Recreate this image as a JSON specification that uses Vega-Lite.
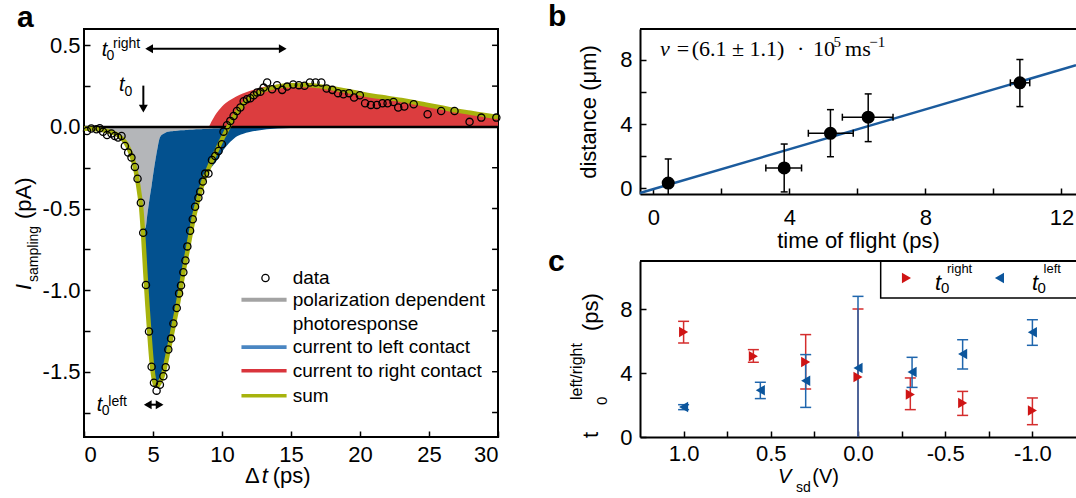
{
"$schema": "https://vega.github.io/schema/vega-lite/v6.json",
"background": "white",
"padding": {"left": 12, "top": 2, "right": 0, "bottom": 0},
"autosize": {"type": "pad"},
"config": {
 "font": "Liberation Sans",
 "view": {"stroke": null},
 "axis": {"labelFont": "Liberation Sans", "labelFontSize": 22, "labelColor": "black", "tickColor": "black", "tickWidth": 1.5, "domainColor": "black", "domainWidth": 2, "grid": false, "titleFont": "Liberation Sans", "titleFontSize": 22, "titleFontWeight": "normal", "titleColor": "black"},
 "text": {"font": "Liberation Sans", "color": "black"}
},
"datasets": {
 "a_curves": [
  {"t":0,"s":-0.01,"g":-0.01,"b":-0.01,"r":0},
  {"t":0.5,"s":-0.012,"g":-0.012,"b":-0.012,"r":0},
  {"t":1,"s":-0.015,"g":-0.015,"b":-0.015,"r":0},
  {"t":1.5,"s":-0.022,"g":-0.022,"b":-0.022,"r":0},
  {"t":2,"s":-0.033,"g":-0.033,"b":-0.033,"r":0},
  {"t":2.5,"s":-0.052,"g":-0.052,"b":-0.052,"r":0},
  {"t":3,"s":-0.095,"g":-0.095,"b":-0.095,"r":0},
  {"t":3.25,"s":-0.135,"g":-0.135,"b":-0.135,"r":0},
  {"t":3.5,"s":-0.19,"g":-0.19,"b":-0.19,"r":0},
  {"t":3.75,"s":-0.27,"g":-0.27,"b":-0.27,"r":0},
  {"t":4,"s":-0.4,"g":-0.4,"b":-0.4,"r":0},
  {"t":4.15,"s":-0.5,"g":-0.5,"b":-0.5,"r":0},
  {"t":4.3,"s":-0.68,"g":-0.59,"b":-0.68,"r":0},
  {"t":4.45,"s":-0.9,"g":-0.62,"b":-0.9,"r":0},
  {"t":4.6,"s":-1.1,"g":-0.53,"b":-1.1,"r":0},
  {"t":4.75,"s":-1.28,"g":-0.44,"b":-1.28,"r":0},
  {"t":4.9,"s":-1.44,"g":-0.36,"b":-1.44,"r":0},
  {"t":5.05,"s":-1.54,"g":-0.27,"b":-1.54,"r":0},
  {"t":5.2,"s":-1.585,"g":-0.19,"b":-1.585,"r":0},
  {"t":5.35,"s":-1.585,"g":-0.12,"b":-1.585,"r":0},
  {"t":5.5,"s":-1.565,"g":-0.065,"b":-1.565,"r":0},
  {"t":5.7,"s":-1.525,"g":-0.045,"b":-1.525,"r":0},
  {"t":5.9,"s":-1.46,"g":-0.035,"b":-1.46,"r":0},
  {"t":6.1,"s":-1.38,"g":-0.03,"b":-1.38,"r":0},
  {"t":6.3,"s":-1.3,"g":-0.027,"b":-1.3,"r":0},
  {"t":6.5,"s":-1.215,"g":-0.025,"b":-1.215,"r":0},
  {"t":6.75,"s":-1.11,"g":-0.023,"b":-1.11,"r":0},
  {"t":7,"s":-0.99,"g":-0.021,"b":-0.99,"r":0},
  {"t":7.25,"s":-0.87,"g":-0.02,"b":-0.87,"r":0},
  {"t":7.5,"s":-0.76,"g":-0.019,"b":-0.76,"r":0},
  {"t":7.75,"s":-0.645,"g":-0.018,"b":-0.645,"r":0},
  {"t":8,"s":-0.54,"g":-0.016,"b":-0.54,"r":0},
  {"t":8.25,"s":-0.455,"g":-0.015,"b":-0.455,"r":0},
  {"t":8.5,"s":-0.375,"g":-0.014,"b":-0.375,"r":0},
  {"t":8.75,"s":-0.31,"g":-0.013,"b":-0.31,"r":0},
  {"t":9,"s":-0.26,"g":-0.012,"b":-0.26,"r":0},
  {"t":9.25,"s":-0.21,"g":-0.011,"b":-0.245,"r":0.035},
  {"t":9.5,"s":-0.165,"g":-0.01,"b":-0.22,"r":0.072},
  {"t":9.75,"s":-0.12,"g":-0.009,"b":-0.19,"r":0.1},
  {"t":10,"s":-0.075,"g":-0.008,"b":-0.155,"r":0.125},
  {"t":10.25,"s":-0.035,"g":-0.007,"b":-0.125,"r":0.145},
  {"t":10.5,"s":0.005,"g":-0.006,"b":-0.1,"r":0.16},
  {"t":10.75,"s":0.045,"g":-0.005,"b":-0.08,"r":0.172},
  {"t":11,"s":0.08,"g":-0.005,"b":-0.062,"r":0.185},
  {"t":11.5,"s":0.135,"g":-0.004,"b":-0.043,"r":0.205},
  {"t":12,"s":0.175,"g":-0.003,"b":-0.031,"r":0.22},
  {"t":12.5,"s":0.203,"g":-0.002,"b":-0.023,"r":0.233},
  {"t":13,"s":0.225,"g":-0.002,"b":-0.017,"r":0.244},
  {"t":13.5,"s":0.238,"g":-0.001,"b":-0.013,"r":0.252},
  {"t":14,"s":0.247,"g":-0.001,"b":-0.01,"r":0.258},
  {"t":15,"s":0.255,"g":0,"b":-0.006,"r":0.262},
  {"t":16,"s":0.257,"g":0,"b":-0.004,"r":0.262},
  {"t":17,"s":0.25,"g":0,"b":-0.002,"r":0.255},
  {"t":18,"s":0.237,"g":0,"b":-0.001,"r":0.24},
  {"t":19,"s":0.222,"g":0,"b":0,"r":0.224},
  {"t":20,"s":0.205,"g":0,"b":0,"r":0.207},
  {"t":21,"s":0.19,"g":0,"b":0,"r":0.192},
  {"t":22,"s":0.178,"g":0,"b":0,"r":0.18},
  {"t":23,"s":0.165,"g":0,"b":0,"r":0.167},
  {"t":24,"s":0.15,"g":0,"b":0,"r":0.152},
  {"t":25,"s":0.133,"g":0,"b":0,"r":0.135},
  {"t":26,"s":0.117,"g":0,"b":0,"r":0.119},
  {"t":27,"s":0.1,"g":0,"b":0,"r":0.102},
  {"t":28,"s":0.087,"g":0,"b":0,"r":0.089},
  {"t":29,"s":0.073,"g":0,"b":0,"r":0.075},
  {"t":30,"s":0.06,"g":0,"b":0,"r":0.062}
 ],
 "a_dat": [
  {"t":0.22,"i":-0.025},{"t":0.53,"i":-0.01},{"t":0.9,"i":-0.014},{"t":1.14,"i":-0.008},{"t":1.38,"i":-0.03},{"t":1.67,"i":-0.05},{"t":1.99,"i":-0.04},{"t":2.23,"i":-0.055},{"t":2.47,"i":-0.065},{"t":2.72,"i":-0.055},
  {"t":2.96,"i":-0.117},{"t":3.2,"i":-0.157},{"t":3.44,"i":-0.188},{"t":3.69,"i":-0.245},{"t":3.88,"i":-0.317},{"t":4.12,"i":-0.464},{"t":4.29,"i":-0.648},{"t":4.49,"i":-0.969},{"t":4.71,"i":-1.254},{"t":4.9,"i":-1.47},
  {"t":5.07,"i":-1.568},{"t":5.26,"i":-1.616},{"t":5.5,"i":-1.58},{"t":5.75,"i":-1.528},{"t":5.92,"i":-1.472},{"t":6.11,"i":-1.364},{"t":6.31,"i":-1.297},{"t":6.48,"i":-1.205},{"t":6.72,"i":-1.11},{"t":6.89,"i":-1.02},
  {"t":7.03,"i":-0.971},{"t":7.2,"i":-0.89},{"t":7.35,"i":-0.818},{"t":7.49,"i":-0.732},{"t":7.69,"i":-0.636},{"t":7.88,"i":-0.566},{"t":8.05,"i":-0.489},{"t":8.29,"i":-0.434},{"t":8.42,"i":-0.397},{"t":8.61,"i":-0.335},
  {"t":8.78,"i":-0.286},{"t":9.02,"i":-0.286},{"t":9.27,"i":-0.202},{"t":9.51,"i":-0.178},{"t":9.75,"i":-0.147},{"t":9.99,"i":-0.106},{"t":10.11,"i":-0.029},{"t":10.36,"i":0.01},{"t":10.6,"i":0.037},{"t":10.84,"i":0.067},
  {"t":11.08,"i":0.098},{"t":11.33,"i":0.119},{"t":11.57,"i":0.157},{"t":11.81,"i":0.17},{"t":12.05,"i":0.176},{"t":12.3,"i":0.194},{"t":12.54,"i":0.211},{"t":12.78,"i":0.215},{"t":13.02,"i":0.241},{"t":13.27,"i":0.272},
  {"t":13.63,"i":0.231},{"t":13.99,"i":0.256},{"t":14.36,"i":0.227},{"t":14.72,"i":0.247},{"t":15.16,"i":0.26},{"t":15.57,"i":0.256},{"t":15.98,"i":0.252},{"t":16.37,"i":0.272},{"t":16.78,"i":0.272},{"t":17.2,"i":0.272},
  {"t":17.58,"i":0.235},{"t":18.0,"i":0.227},{"t":18.41,"i":0.207},{"t":18.8,"i":0.2},{"t":19.21,"i":0.207},{"t":19.57,"i":0.18},{"t":19.99,"i":0.194},{"t":20.37,"i":0.145},{"t":20.79,"i":0.135},{"t":21.22,"i":0.135},
  {"t":21.63,"i":0.145},{"t":22.0,"i":0.145},{"t":22.43,"i":0.153},{"t":22.77,"i":0.119},{"t":23.21,"i":0.125},{"t":23.89,"i":0.139},{"t":24.9,"i":0.078},{"t":25.88,"i":0.098},{"t":26.85,"i":0.098},{"t":27.94,"i":0.031},
  {"t":28.79,"i":0.057},{"t":29.88,"i":0.057}
 ],
 "a_rticks": [{"y":-1.75},{"y":-1.5},{"y":-1.25},{"y":-1},{"y":-0.75},{"y":-0.5},{"y":-0.25},{"y":0.25},{"y":0.5}],
 "a_leg_lines": [
  {"x1":11.41,"x2":14.68,"y":-1.059,"k":"gray"},
  {"x1":11.41,"x2":14.68,"y":-1.349,"k":"blue"},
  {"x1":11.41,"x2":14.68,"y":-1.494,"k":"red"},
  {"x1":11.41,"x2":14.68,"y":-1.647,"k":"sum"}
 ],
 "a_leg_pt": [{"x":13.15,"y":-0.926}],
 "a_leg_text": [
  {"x":15.12,"y":-0.926,"txt":"data"},
  {"x":15.12,"y":-1.059,"txt":"polarization dependent"},
  {"x":15.12,"y":-1.206,"txt":"photoresponse"},
  {"x":15.12,"y":-1.349,"txt":"current to left contact"},
  {"x":15.12,"y":-1.494,"txt":"current to right contact"},
  {"x":15.12,"y":-1.647,"txt":"sum"}
 ],
 "a_hlines": [{"x1":4.6,"x2":14.5,"y":0.479},{"x1":4.5,"x2":5.6,"y":-1.702}],
 "a_vlines": [{"x":4.3,"y1":0.253,"y2":0.12}],
 "a_heads": [
  {"x":4.72,"y":0.479,"dir":"L"},{"x":14.4,"y":0.479,"dir":"R"},{"x":4.3,"y":0.112,"dir":"D"},
  {"x":4.62,"y":-1.702,"dir":"L"},{"x":5.48,"y":-1.702,"dir":"R"}
 ],
 "a_text": [
  {"x":1.28,"y":0.433,"txt":"t","kind":"it20"},
  {"x":2.54,"y":0.22,"txt":"t","kind":"it20"},
  {"x":0.92,"y":-1.74,"txt":"t","kind":"it20"},
  {"x":1.63,"y":0.41,"txt":"0","kind":"n14"},
  {"x":2.1,"y":0.484,"txt":"right","kind":"n14"},
  {"x":2.93,"y":0.19,"txt":"0","kind":"n14"},
  {"x":1.28,"y":-1.763,"txt":"0","kind":"n14"},
  {"x":1.76,"y":-1.71,"txt":"left","kind":"n14"},
  {"x":11.67,"y":-2.18,"txt":"Δ","kind":"n22"},
  {"x":13.68,"y":-2.18,"txt":"(ps)","kind":"n22"},
  {"x":12.88,"y":-2.18,"txt":"t","kind":"it22"},
  {"x":-3.84,"y":-1.0,"txt":"I","kind":"rit22"},
  {"x":-3.84,"y":-0.564,"txt":"(pA)","kind":"rn22"},
  {"x":-3.33,"y":-0.95,"txt":"sampling","kind":"rn14"}
 ],
 "b_pts": [
  {"tof":0.44,"d":0.33,"dlo":-1.17,"dhi":1.83},
  {"tof":3.85,"d":1.27,"dlo":-0.22,"dhi":2.76},
  {"tof":5.21,"d":3.43,"dlo":1.97,"dhi":4.9},
  {"tof":6.32,"d":4.43,"dlo":2.91,"dhi":5.88},
  {"tof":10.78,"d":6.57,"dlo":5.09,"dhi":8.02}
 ],
 "b_xerr": [
  {"d":1.27,"tlo":3.31,"thi":4.36},
  {"d":3.43,"tlo":4.56,"thi":5.88},
  {"d":4.43,"tlo":5.56,"thi":7.05},
  {"d":6.57,"tlo":10.5,"thi":11.07}
 ],
 "b_fit": [{"x1":-0.39,"y1":-0.292,"x2":12.43,"y2":7.66}],
 "b_eq": [
  {"x":0.198,"y":8.24,"txt":"v","kind":"it"},
  {"x":0.688,"y":8.24,"txt":"=","kind":"n"},
  {"x":1.129,"y":8.24,"txt":"(6.1 ± 1.1)","kind":"n"},
  {"x":4.226,"y":8.24,"txt":"·","kind":"n"},
  {"x":4.697,"y":8.24,"txt":"10","kind":"n"},
  {"x":5.64,"y":8.24,"txt":"ms","kind":"n"},
  {"x":5.3,"y":8.8,"txt":"5","kind":"sup"},
  {"x":6.35,"y":8.8,"txt":"−1","kind":"sup"}
 ],
 "c_red": [
  {"v":1.0,"t":6.56,"lo":5.875,"hi":7.23},
  {"v":0.6,"t":5.04,"lo":4.67,"hi":5.46},
  {"v":0.3,"t":4.69,"lo":3.0,"hi":6.4},
  {"v":0.0,"t":3.75,"lo":-0.5,"hi":8.0},
  {"v":-0.3,"t":2.65,"lo":1.71,"hi":3.69},
  {"v":-0.6,"t":2.125,"lo":1.35,"hi":2.85},
  {"v":-1.0,"t":1.65,"lo":0.77,"hi":2.44}
 ],
 "c_blue": [
  {"v":1.0,"t":1.875,"lo":1.71,"hi":2.02},
  {"v":0.56,"t":2.92,"lo":2.4,"hi":3.42},
  {"v":0.3,"t":3.52,"lo":1.85,"hi":5.15},
  {"v":0.0,"t":4.31,"lo":-0.2,"hi":8.79},
  {"v":-0.31,"t":4.06,"lo":3.1,"hi":4.98},
  {"v":-0.6,"t":5.19,"lo":4.25,"hi":6.08},
  {"v":-1.0,"t":6.54,"lo":5.73,"hi":7.33}
 ],
 "c_box": [{"x1":-0.13,"x2":-1.3,"y1":8.69,"y2":11.2}],
 "c_leg_red": [{"x":-0.278,"y":9.94}],
 "c_leg_blue": [{"x":-0.811,"y":9.94}],
 "c_text": [
  {"x":-0.441,"y":9.19,"txt":"t","kind":"it22"},
  {"x":-0.998,"y":9.19,"txt":"t","kind":"it22"},
  {"x":-0.476,"y":9.0,"txt":"0","kind":"n15"},
  {"x":-1.029,"y":9.0,"txt":"0","kind":"n15"},
  {"x":-0.51,"y":10.25,"txt":"right","kind":"n13"},
  {"x":-1.064,"y":10.25,"txt":"left","kind":"n13"},
  {"x":0.459,"y":-2.9,"txt":"V","kind":"it20"},
  {"x":0.355,"y":-3.46,"txt":"sd","kind":"n14"},
  {"x":0.262,"y":-2.9,"txt":"(V)","kind":"n20"},
  {"x":1.491,"y":-0.06,"txt":"t","kind":"rn22"},
  {"x":1.491,"y":6.625,"txt":"(ps)","kind":"rn22"},
  {"x":1.439,"y":2.0,"txt":"0","kind":"rn15"},
  {"x":1.583,"y":2.31,"txt":"left/right","kind":"rn16"}
 ]
},
"spacing": 142,
"bounds": "flush",
"hconcat": [
 {
  "width": 414, "height": 408,
  "view": {"stroke": "black", "strokeWidth": 2},
  "title": {"text": "a", "anchor": "start", "frame": "group", "fontSize": 30, "fontWeight": "bold", "dx": -67, "offset": -28, "baseline": "alphabetic", "color": "black", "font": "Liberation Sans"},
  "layer": [
   {"data": {"name": "a_curves"},
    "mark": {"type": "area", "color": "#b4b6b9", "interpolate": "monotone"},
    "encoding": {
     "x": {"field": "t", "type": "quantitative", "title": null, "scale": {"domain": [0, 30], "nice": false, "zero": false},
           "axis": {"values": [0,2.5,5,7.5,10,12.5,15,17.5,20,22.5,25,27.5,30], "labelExpr": "datum.value % 5 == 0 ? format(datum.value, 'd') : ''", "tickSize": -6, "labelPadding": 13, "domain": false}},
     "y": {"field": "g", "type": "quantitative", "title": null, "scale": {"domain": [-1.9, 0.6], "nice": false, "zero": false},
           "axis": {"values": [-1.75,-1.5,-1.25,-1,-0.75,-0.5,-0.25,0,0.25,0.5], "labelExpr": "abs(datum.value*2 - round(datum.value*2)) < 0.001 ? replace(format(datum.value, '.1f'), '−', '-') : ''", "tickSize": -6, "labelPadding": 10, "domain": false}},
     "y2": {"datum": 0}
    }},
   {"data": {"name": "a_curves"},
    "mark": {"type": "area", "color": "#03518f", "interpolate": "monotone"},
    "encoding": {
     "x": {"field": "t", "type": "quantitative"},
     "y": {"field": "b", "type": "quantitative"},
     "y2": {"field": "g"}
    }},
   {"data": {"name": "a_curves"},
    "mark": {"type": "area", "color": "#dc3d3f", "interpolate": "monotone"},
    "encoding": {
     "x": {"field": "t", "type": "quantitative"},
     "y": {"field": "r", "type": "quantitative"},
     "y2": {"datum": 0}
    }},
   {"data": {"values": [{}]},
    "mark": {"type": "rule", "color": "black", "strokeWidth": 2.5},
    "encoding": {"y": {"datum": 0, "type": "quantitative"}}},
   {"data": {"name": "a_rticks"},
    "mark": {"type": "rule", "color": "black", "strokeWidth": 1.5},
    "encoding": {"x": {"datum": 29.57, "type": "quantitative"}, "x2": {"datum": 30}, "y": {"field": "y", "type": "quantitative"}}},
   {"data": {"name": "a_curves"},
    "mark": {"type": "line", "color": "#a7b30d", "strokeWidth": 4.5, "interpolate": "monotone"},
    "encoding": {
     "x": {"field": "t", "type": "quantitative"},
     "y": {"field": "s", "type": "quantitative"}
    }},
   {"data": {"name": "a_dat"},
    "mark": {"type": "point", "shape": "circle", "filled": false, "stroke": "black", "strokeWidth": 1.3, "size": 52, "opacity": 1},
    "encoding": {
     "x": {"field": "t", "type": "quantitative"},
     "y": {"field": "i", "type": "quantitative"}
    }},
   {"data": {"name": "a_leg_lines"},
    "mark": {"type": "rule"},
    "encoding": {
     "x": {"field": "x1", "type": "quantitative"},
     "x2": {"field": "x2"},
     "y": {"field": "y", "type": "quantitative"},
     "color": {"field": "k", "type": "nominal", "scale": {"domain": ["gray","blue","red","sum"], "range": ["#a3a3a3","#4a86c2","#d9343c","#a7b30d"]}, "legend": null},
     "strokeWidth": {"field": "k", "type": "ordinal", "scale": {"domain": ["gray","blue","red","sum"], "range": [4,3.5,3.5,5]}, "legend": null}
    }},
   {"data": {"name": "a_leg_pt"},
    "mark": {"type": "point", "shape": "circle", "filled": false, "stroke": "black", "strokeWidth": 1.3, "size": 52, "opacity": 1},
    "encoding": {
     "x": {"field": "x", "type": "quantitative"},
     "y": {"field": "y", "type": "quantitative"}
    }},
   {"data": {"name": "a_leg_text"},
    "mark": {"type": "text", "align": "left", "baseline": "middle", "fontSize": 19},
    "encoding": {
     "x": {"field": "x", "type": "quantitative"},
     "y": {"field": "y", "type": "quantitative"},
     "text": {"field": "txt"}
    }},
   {"data": {"name": "a_hlines"},
    "mark": {"type": "rule", "color": "black", "strokeWidth": 2},
    "encoding": {
     "x": {"field": "x1", "type": "quantitative"},
     "x2": {"field": "x2"},
     "y": {"field": "y", "type": "quantitative"}
    }},
   {"data": {"name": "a_vlines"},
    "mark": {"type": "rule", "color": "black", "strokeWidth": 2},
    "encoding": {
     "x": {"field": "x", "type": "quantitative"},
     "y": {"field": "y1", "type": "quantitative"},
     "y2": {"field": "y2"}
    }},
   {"data": {"name": "a_heads"},
    "mark": {"type": "point", "filled": true, "color": "black", "size": 80, "opacity": 1},
    "encoding": {
     "x": {"field": "x", "type": "quantitative"},
     "y": {"field": "y", "type": "quantitative"},
     "shape": {"field": "dir", "type": "nominal", "scale": {"domain": ["L","R","D"], "range": ["triangle-left","triangle-right","triangle-down"]}, "legend": null}
    }},
   {"data": {"name": "a_text"}, "transform": [{"filter": "datum.kind == 'it20'"}],
    "mark": {"type": "text", "align": "left", "baseline": "alphabetic", "fontSize": 20, "fontStyle": "italic"},
    "encoding": {"x": {"field": "x", "type": "quantitative"}, "y": {"field": "y", "type": "quantitative"}, "text": {"field": "txt"}}},
   {"data": {"name": "a_text"}, "transform": [{"filter": "datum.kind == 'n14'"}],
    "mark": {"type": "text", "align": "left", "baseline": "alphabetic", "fontSize": 14},
    "encoding": {"x": {"field": "x", "type": "quantitative"}, "y": {"field": "y", "type": "quantitative"}, "text": {"field": "txt"}}},
   {"data": {"name": "a_text"}, "transform": [{"filter": "datum.kind == 'n22'"}],
    "mark": {"type": "text", "align": "left", "baseline": "alphabetic", "fontSize": 22},
    "encoding": {"x": {"field": "x", "type": "quantitative"}, "y": {"field": "y", "type": "quantitative"}, "text": {"field": "txt"}}},
   {"data": {"name": "a_text"}, "transform": [{"filter": "datum.kind == 'it22'"}],
    "mark": {"type": "text", "align": "left", "baseline": "alphabetic", "fontSize": 22, "fontStyle": "italic"},
    "encoding": {"x": {"field": "x", "type": "quantitative"}, "y": {"field": "y", "type": "quantitative"}, "text": {"field": "txt"}}},
   {"data": {"name": "a_text"}, "transform": [{"filter": "datum.kind == 'rit22'"}],
    "mark": {"type": "text", "align": "left", "baseline": "alphabetic", "fontSize": 22, "fontStyle": "italic", "angle": 270},
    "encoding": {"x": {"field": "x", "type": "quantitative"}, "y": {"field": "y", "type": "quantitative"}, "text": {"field": "txt"}}},
   {"data": {"name": "a_text"}, "transform": [{"filter": "datum.kind == 'rn22'"}],
    "mark": {"type": "text", "align": "left", "baseline": "alphabetic", "fontSize": 22, "angle": 270},
    "encoding": {"x": {"field": "x", "type": "quantitative"}, "y": {"field": "y", "type": "quantitative"}, "text": {"field": "txt"}}},
   {"data": {"name": "a_text"}, "transform": [{"filter": "datum.kind == 'rn14'"}],
    "mark": {"type": "text", "align": "left", "baseline": "alphabetic", "fontSize": 14, "angle": 270},
    "encoding": {"x": {"field": "x", "type": "quantitative"}, "y": {"field": "y", "type": "quantitative"}, "text": {"field": "txt"}}}
  ]
 },
 {
  "spacing": 67,
  "bounds": "flush",
  "vconcat": [
   {
    "width": 436, "height": 165,
    "title": {"text": "b", "anchor": "start", "frame": "group", "fontSize": 30, "fontWeight": "bold", "dx": -92, "offset": -28, "baseline": "alphabetic", "color": "black", "font": "Liberation Sans"},
    "layer": [
     {"data": {"name": "b_fit"},
      "mark": {"type": "rule", "color": "#1b5b9d", "strokeWidth": 2.5},
      "encoding": {
       "x": {"field": "x1", "type": "quantitative", "title": "time of flight (ps)", "scale": {"domain": [-0.39, 12.43], "nice": false, "zero": false},
             "axis": {"values": [0,2,4,6,8,10,12], "labelExpr": "datum.value % 4 == 0 ? format(datum.value, 'd') : ''", "tickSize": -6, "labelPadding": 19, "titlePadding": 2}},
       "y": {"field": "y1", "type": "quantitative", "title": "distance (μm)", "scale": {"domain": [-0.35, 9.92], "nice": false, "zero": false},
             "axis": {"values": [0,2,4,6,8], "labelExpr": "datum.value % 4 == 0 ? format(datum.value, 'd') : ''", "tickSize": -6, "labelPadding": 14, "titlePadding": 19}},
       "x2": {"field": "x2"},
       "y2": {"field": "y2"}
      }},
     {"data": {"values": [{}]},
      "mark": {"type": "rule", "color": "black", "strokeWidth": 2},
      "encoding": {"y": {"datum": 9.92, "type": "quantitative"}}},
     {"data": {"name": "b_pts"},
      "mark": {"type": "rule", "color": "black", "strokeWidth": 1.5, "clip": true},
      "encoding": {
       "x": {"field": "tof", "type": "quantitative"},
       "y": {"field": "dlo", "type": "quantitative"},
       "y2": {"field": "dhi"}
      }},
     {"data": {"name": "b_xerr"},
      "mark": {"type": "rule", "color": "black", "strokeWidth": 1.5},
      "encoding": {
       "x": {"field": "tlo", "type": "quantitative"},
       "x2": {"field": "thi"},
       "y": {"field": "d", "type": "quantitative"}
      }},
     {"data": {"name": "b_pts"},
      "mark": {"type": "tick", "orient": "horizontal", "color": "black", "size": 7, "thickness": 1.5, "clip": true, "opacity": 1},
      "encoding": {
       "x": {"field": "tof", "type": "quantitative"},
       "y": {"field": "dlo", "type": "quantitative"}
      }},
     {"data": {"name": "b_pts"},
      "mark": {"type": "tick", "orient": "horizontal", "color": "black", "size": 7, "thickness": 1.5, "clip": true, "opacity": 1},
      "encoding": {
       "x": {"field": "tof", "type": "quantitative"},
       "y": {"field": "dhi", "type": "quantitative"}
      }},
     {"data": {"name": "b_xerr"},
      "mark": {"type": "tick", "orient": "vertical", "color": "black", "size": 7, "thickness": 1.5, "opacity": 1},
      "encoding": {
       "x": {"field": "tlo", "type": "quantitative"},
       "y": {"field": "d", "type": "quantitative"}
      }},
     {"data": {"name": "b_xerr"},
      "mark": {"type": "tick", "orient": "vertical", "color": "black", "size": 7, "thickness": 1.5, "opacity": 1},
      "encoding": {
       "x": {"field": "thi", "type": "quantitative"},
       "y": {"field": "d", "type": "quantitative"}
      }},
     {"data": {"name": "b_pts"},
      "mark": {"type": "point", "shape": "circle", "filled": true, "color": "black", "size": 170, "opacity": 1},
      "encoding": {
       "x": {"field": "tof", "type": "quantitative"},
       "y": {"field": "d", "type": "quantitative"}
      }},
     {"data": {"name": "b_eq"}, "transform": [{"filter": "datum.kind == 'it'"}],
      "mark": {"type": "text", "align": "left", "baseline": "alphabetic", "fontSize": 22, "font": "Liberation Serif", "fontStyle": "italic"},
      "encoding": {"x": {"field": "x", "type": "quantitative"}, "y": {"field": "y", "type": "quantitative"}, "text": {"field": "txt"}}},
     {"data": {"name": "b_eq"}, "transform": [{"filter": "datum.kind == 'n'"}],
      "mark": {"type": "text", "align": "left", "baseline": "alphabetic", "fontSize": 22, "font": "Liberation Serif"},
      "encoding": {"x": {"field": "x", "type": "quantitative"}, "y": {"field": "y", "type": "quantitative"}, "text": {"field": "txt"}}},
     {"data": {"name": "b_eq"}, "transform": [{"filter": "datum.kind == 'sup'"}],
      "mark": {"type": "text", "align": "left", "baseline": "alphabetic", "fontSize": 15, "font": "Liberation Serif"},
      "encoding": {"x": {"field": "x", "type": "quantitative"}, "y": {"field": "y", "type": "quantitative"}, "text": {"field": "txt"}}}
    ]
   },
   {
    "width": 436, "height": 176,
    "title": {"text": "c", "anchor": "start", "frame": "group", "fontSize": 30, "fontWeight": "bold", "dx": -92, "offset": -41, "baseline": "alphabetic", "color": "black", "font": "Liberation Sans"},
    "layer": [
     {"data": {"name": "c_red"},
      "mark": {"type": "rule", "color": "#d42d2d", "strokeWidth": 1.5, "clip": true},
      "encoding": {
       "x": {"field": "v", "type": "quantitative", "title": null, "scale": {"domain": [-1.25, 1.25], "reverse": true, "nice": false, "zero": false},
             "axis": {"values": [-1,-0.75,-0.5,-0.25,0,0.25,0.5,0.75,1], "labelExpr": "abs(datum.value*2 - round(datum.value*2)) < 0.001 ? replace(format(datum.value, '.1f'), '−', '-') : ''", "tickSize": -6, "labelPadding": 12}},
       "y": {"field": "lo", "type": "quantitative", "title": null, "scale": {"domain": [0, 11], "nice": false, "zero": false},
             "axis": {"values": [0,2,4,6,8,10], "labelExpr": "datum.value % 4 == 0 ? format(datum.value, 'd') : ''", "tickSize": -6, "labelPadding": 14}},
       "y2": {"field": "hi"}
      }},
     {"data": {"name": "c_red"},
      "mark": {"type": "tick", "orient": "horizontal", "color": "#d42d2d", "size": 11, "thickness": 1.5, "clip": true, "opacity": 1},
      "encoding": {"x": {"field": "v", "type": "quantitative"}, "y": {"field": "lo", "type": "quantitative"}}},
     {"data": {"name": "c_red"},
      "mark": {"type": "tick", "orient": "horizontal", "color": "#d42d2d", "size": 11, "thickness": 1.5, "clip": true, "opacity": 1},
      "encoding": {"x": {"field": "v", "type": "quantitative"}, "y": {"field": "hi", "type": "quantitative"}}},
     {"data": {"name": "c_blue"},
      "mark": {"type": "rule", "color": "#1f66ad", "strokeWidth": 1.5, "clip": true},
      "encoding": {"x": {"field": "v", "type": "quantitative"}, "y": {"field": "lo", "type": "quantitative"}, "y2": {"field": "hi"}}},
     {"data": {"name": "c_blue"},
      "mark": {"type": "tick", "orient": "horizontal", "color": "#1f66ad", "size": 11, "thickness": 1.5, "clip": true, "opacity": 1},
      "encoding": {"x": {"field": "v", "type": "quantitative"}, "y": {"field": "lo", "type": "quantitative"}}},
     {"data": {"name": "c_blue"},
      "mark": {"type": "tick", "orient": "horizontal", "color": "#1f66ad", "size": 11, "thickness": 1.5, "clip": true, "opacity": 1},
      "encoding": {"x": {"field": "v", "type": "quantitative"}, "y": {"field": "hi", "type": "quantitative"}}},
     {"data": {"name": "c_red"},
      "mark": {"type": "point", "shape": "triangle-right", "filled": true, "color": "#cf1414", "size": 110, "opacity": 1},
      "encoding": {"x": {"field": "v", "type": "quantitative"}, "y": {"field": "t", "type": "quantitative"}}},
     {"data": {"name": "c_blue"},
      "mark": {"type": "point", "shape": "triangle-left", "filled": true, "color": "#0b559c", "size": 110, "opacity": 1},
      "encoding": {"x": {"field": "v", "type": "quantitative"}, "y": {"field": "t", "type": "quantitative"}}},
     {"data": {"name": "c_box"},
      "mark": {"type": "rect", "fill": "white", "stroke": "black", "strokeWidth": 1.5, "clip": true},
      "encoding": {"x": {"field": "x1", "type": "quantitative"}, "x2": {"field": "x2"}, "y": {"field": "y1", "type": "quantitative"}, "y2": {"field": "y2"}}},
     {"data": {"values": [{}]},
      "mark": {"type": "rule", "color": "black", "strokeWidth": 2},
      "encoding": {"y": {"datum": 11, "type": "quantitative"}}},
     {"data": {"name": "c_leg_red"},
      "mark": {"type": "point", "shape": "triangle-right", "filled": true, "color": "#cf1414", "size": 110, "opacity": 1},
      "encoding": {"x": {"field": "x", "type": "quantitative"}, "y": {"field": "y", "type": "quantitative"}}},
     {"data": {"name": "c_leg_blue"},
      "mark": {"type": "point", "shape": "triangle-left", "filled": true, "color": "#0b559c", "size": 110, "opacity": 1},
      "encoding": {"x": {"field": "x", "type": "quantitative"}, "y": {"field": "y", "type": "quantitative"}}},
     {"data": {"name": "c_text"}, "transform": [{"filter": "datum.kind == 'it22'"}],
      "mark": {"type": "text", "align": "left", "baseline": "alphabetic", "fontSize": 22, "fontStyle": "italic"},
      "encoding": {"x": {"field": "x", "type": "quantitative"}, "y": {"field": "y", "type": "quantitative"}, "text": {"field": "txt"}}},
     {"data": {"name": "c_text"}, "transform": [{"filter": "datum.kind == 'it20'"}],
      "mark": {"type": "text", "align": "left", "baseline": "alphabetic", "fontSize": 20, "fontStyle": "italic"},
      "encoding": {"x": {"field": "x", "type": "quantitative"}, "y": {"field": "y", "type": "quantitative"}, "text": {"field": "txt"}}},
     {"data": {"name": "c_text"}, "transform": [{"filter": "datum.kind == 'n20'"}],
      "mark": {"type": "text", "align": "left", "baseline": "alphabetic", "fontSize": 20},
      "encoding": {"x": {"field": "x", "type": "quantitative"}, "y": {"field": "y", "type": "quantitative"}, "text": {"field": "txt"}}},
     {"data": {"name": "c_text"}, "transform": [{"filter": "datum.kind == 'n15'"}],
      "mark": {"type": "text", "align": "left", "baseline": "alphabetic", "fontSize": 15},
      "encoding": {"x": {"field": "x", "type": "quantitative"}, "y": {"field": "y", "type": "quantitative"}, "text": {"field": "txt"}}},
     {"data": {"name": "c_text"}, "transform": [{"filter": "datum.kind == 'n14'"}],
      "mark": {"type": "text", "align": "left", "baseline": "alphabetic", "fontSize": 14},
      "encoding": {"x": {"field": "x", "type": "quantitative"}, "y": {"field": "y", "type": "quantitative"}, "text": {"field": "txt"}}},
     {"data": {"name": "c_text"}, "transform": [{"filter": "datum.kind == 'n13'"}],
      "mark": {"type": "text", "align": "left", "baseline": "alphabetic", "fontSize": 13},
      "encoding": {"x": {"field": "x", "type": "quantitative"}, "y": {"field": "y", "type": "quantitative"}, "text": {"field": "txt"}}},
     {"data": {"name": "c_text"}, "transform": [{"filter": "datum.kind == 'rn22'"}],
      "mark": {"type": "text", "align": "left", "baseline": "alphabetic", "fontSize": 22, "angle": 270},
      "encoding": {"x": {"field": "x", "type": "quantitative"}, "y": {"field": "y", "type": "quantitative"}, "text": {"field": "txt"}}},
     {"data": {"name": "c_text"}, "transform": [{"filter": "datum.kind == 'rn15'"}],
      "mark": {"type": "text", "align": "left", "baseline": "alphabetic", "fontSize": 15, "angle": 270},
      "encoding": {"x": {"field": "x", "type": "quantitative"}, "y": {"field": "y", "type": "quantitative"}, "text": {"field": "txt"}}},
     {"data": {"name": "c_text"}, "transform": [{"filter": "datum.kind == 'rn16'"}],
      "mark": {"type": "text", "align": "left", "baseline": "alphabetic", "fontSize": 16, "angle": 270},
      "encoding": {"x": {"field": "x", "type": "quantitative"}, "y": {"field": "y", "type": "quantitative"}, "text": {"field": "txt"}}}
    ]
   }
  ]
 }
]
}
